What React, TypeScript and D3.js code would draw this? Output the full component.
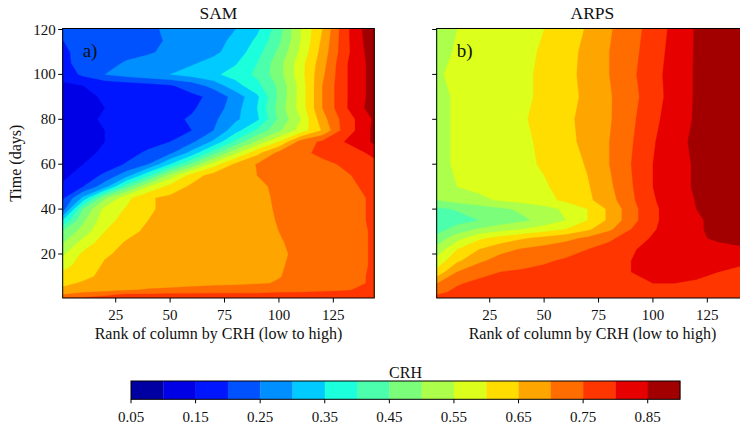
import React from "react";
import * as d3 from "d3";

const LEVELS = [0.05, 0.1, 0.15, 0.2, 0.25, 0.3, 0.35, 0.4, 0.45, 0.5, 0.55, 0.6, 0.65, 0.7, 0.75, 0.8, 0.85, 0.9];
const CBAR_TICKS = [0.05, 0.15, 0.25, 0.35, 0.45, 0.55, 0.65, 0.75, 0.85];
const RANK_TICKS = [25, 50, 75, 100, 125];
const TIME_TICKS = [20, 40, 60, 80, 100, 120];
const RANKS = [1, 10, 20, 30, 40, 50, 60, 70, 80, 90, 100, 110, 120, 130, 140, 144];

const SAM_TIMES = [0, 2, 4, 7, 10, 15, 20, 25, 30, 35, 40, 45, 50, 55, 60, 65, 70, 75, 80, 85, 90, 95, 100, 105, 110, 115, 120];
const SAM_CRH = [
  [0.765, 0.765, 0.77, 0.77, 0.77, 0.77, 0.775, 0.775, 0.775, 0.78, 0.78, 0.78, 0.785, 0.785, 0.79, 0.795],
  [0.7, 0.72, 0.74, 0.755, 0.755, 0.76, 0.76, 0.76, 0.76, 0.76, 0.765, 0.765, 0.77, 0.775, 0.78, 0.79],
  [0.66, 0.67, 0.68, 0.695, 0.705, 0.71, 0.715, 0.72, 0.72, 0.725, 0.73, 0.735, 0.74, 0.745, 0.76, 0.78],
  [0.64, 0.655, 0.665, 0.67, 0.675, 0.68, 0.685, 0.69, 0.693, 0.697, 0.702, 0.71, 0.72, 0.73, 0.75, 0.77],
  [0.62, 0.64, 0.66, 0.665, 0.67, 0.675, 0.68, 0.685, 0.69, 0.694, 0.699, 0.707, 0.72, 0.73, 0.75, 0.765],
  [0.58, 0.625, 0.655, 0.66, 0.67, 0.675, 0.68, 0.685, 0.69, 0.694, 0.698, 0.705, 0.72, 0.73, 0.745, 0.765],
  [0.545, 0.61, 0.645, 0.66, 0.67, 0.675, 0.68, 0.685, 0.69, 0.694, 0.697, 0.704, 0.72, 0.73, 0.745, 0.765],
  [0.5, 0.57, 0.625, 0.655, 0.665, 0.67, 0.675, 0.685, 0.69, 0.694, 0.698, 0.706, 0.72, 0.73, 0.745, 0.765],
  [0.46, 0.52, 0.6, 0.635, 0.66, 0.665, 0.675, 0.68, 0.69, 0.695, 0.7, 0.708, 0.72, 0.73, 0.745, 0.765],
  [0.36, 0.49, 0.58, 0.62, 0.65, 0.665, 0.675, 0.68, 0.69, 0.695, 0.701, 0.71, 0.72, 0.73, 0.75, 0.765],
  [0.23, 0.45, 0.565, 0.605, 0.645, 0.66, 0.67, 0.68, 0.69, 0.695, 0.702, 0.712, 0.725, 0.735, 0.75, 0.765],
  [0.195, 0.31, 0.49, 0.585, 0.645, 0.66, 0.67, 0.678, 0.686, 0.695, 0.703, 0.713, 0.725, 0.735, 0.75, 0.765],
  [0.16, 0.2, 0.28, 0.43, 0.55, 0.62, 0.66, 0.67, 0.684, 0.695, 0.705, 0.715, 0.725, 0.74, 0.755, 0.77],
  [0.14, 0.17, 0.21, 0.28, 0.39, 0.52, 0.625, 0.67, 0.684, 0.7, 0.71, 0.72, 0.73, 0.745, 0.76, 0.775],
  [0.13, 0.15, 0.17, 0.205, 0.25, 0.35, 0.46, 0.575, 0.66, 0.703, 0.72, 0.73, 0.74, 0.755, 0.77, 0.78],
  [0.12, 0.135, 0.16, 0.18, 0.21, 0.24, 0.32, 0.43, 0.54, 0.635, 0.715, 0.74, 0.76, 0.78, 0.8, 0.82],
  [0.115, 0.13, 0.15, 0.165, 0.18, 0.2, 0.24, 0.31, 0.41, 0.51, 0.6, 0.72, 0.76, 0.8, 0.84, 0.86],
  [0.12, 0.13, 0.15, 0.17, 0.18, 0.19, 0.2, 0.25, 0.33, 0.41, 0.49, 0.57, 0.655, 0.77, 0.83, 0.87],
  [0.12, 0.13, 0.16, 0.17, 0.18, 0.19, 0.205, 0.24, 0.29, 0.34, 0.46, 0.55, 0.68, 0.77, 0.83, 0.86],
  [0.12, 0.13, 0.15, 0.165, 0.175, 0.185, 0.195, 0.22, 0.28, 0.35, 0.47, 0.57, 0.7, 0.79, 0.855, 0.87],
  [0.13, 0.14, 0.155, 0.165, 0.175, 0.185, 0.19, 0.21, 0.27, 0.34, 0.46, 0.57, 0.7, 0.79, 0.85, 0.87],
  [0.14, 0.15, 0.16, 0.17, 0.18, 0.195, 0.22, 0.27, 0.33, 0.385, 0.46, 0.57, 0.7, 0.79, 0.85, 0.875],
  [0.17, 0.21, 0.25, 0.27, 0.285, 0.3, 0.32, 0.34, 0.37, 0.41, 0.48, 0.58, 0.69, 0.79, 0.85, 0.88],
  [0.19, 0.215, 0.235, 0.255, 0.265, 0.28, 0.295, 0.315, 0.345, 0.4, 0.48, 0.58, 0.68, 0.79, 0.85, 0.88],
  [0.195, 0.21, 0.22, 0.235, 0.245, 0.26, 0.275, 0.29, 0.32, 0.38, 0.46, 0.56, 0.67, 0.78, 0.855, 0.88],
  [0.2, 0.21, 0.215, 0.225, 0.24, 0.255, 0.27, 0.285, 0.31, 0.36, 0.44, 0.55, 0.66, 0.78, 0.86, 0.885],
  [0.205, 0.21, 0.215, 0.225, 0.24, 0.26, 0.27, 0.285, 0.3, 0.34, 0.43, 0.55, 0.65, 0.78, 0.865, 0.89],
];

const ARPS_TIMES = [0, 3, 7, 12, 17, 22, 27, 31, 35, 40, 44, 50, 60, 70, 80, 90, 100, 110, 120];
const ARPS_CRH = [
  [0.77, 0.775, 0.775, 0.78, 0.78, 0.78, 0.78, 0.78, 0.78, 0.78, 0.78, 0.78, 0.78, 0.78, 0.78, 0.78],
  [0.74, 0.76, 0.77, 0.775, 0.775, 0.78, 0.78, 0.78, 0.785, 0.785, 0.79, 0.79, 0.785, 0.78, 0.78, 0.78],
  [0.7, 0.745, 0.76, 0.765, 0.77, 0.775, 0.78, 0.785, 0.79, 0.795, 0.8, 0.8, 0.795, 0.785, 0.78, 0.78],
  [0.62, 0.7, 0.735, 0.75, 0.755, 0.76, 0.765, 0.775, 0.79, 0.8, 0.81, 0.815, 0.81, 0.8, 0.79, 0.785],
  [0.57, 0.64, 0.69, 0.72, 0.735, 0.745, 0.755, 0.765, 0.78, 0.8, 0.815, 0.825, 0.825, 0.815, 0.81, 0.81],
  [0.52, 0.6, 0.65, 0.685, 0.705, 0.72, 0.735, 0.75, 0.77, 0.795, 0.815, 0.83, 0.835, 0.84, 0.845, 0.85],
  [0.47, 0.53, 0.59, 0.62, 0.645, 0.665, 0.685, 0.71, 0.74, 0.775, 0.805, 0.83, 0.845, 0.855, 0.86, 0.865],
  [0.43, 0.47, 0.505, 0.53, 0.55, 0.575, 0.6, 0.64, 0.69, 0.75, 0.795, 0.825, 0.845, 0.86, 0.865, 0.87],
  [0.41, 0.43, 0.45, 0.47, 0.49, 0.515, 0.55, 0.6, 0.66, 0.73, 0.79, 0.825, 0.845, 0.86, 0.87, 0.875],
  [0.44, 0.455, 0.47, 0.49, 0.51, 0.53, 0.56, 0.6, 0.66, 0.73, 0.79, 0.825, 0.85, 0.865, 0.875, 0.88],
  [0.5, 0.52, 0.54, 0.555, 0.57, 0.585, 0.61, 0.64, 0.68, 0.74, 0.795, 0.83, 0.852, 0.865, 0.88, 0.885],
  [0.53, 0.55, 0.56, 0.57, 0.58, 0.595, 0.615, 0.645, 0.69, 0.745, 0.8, 0.835, 0.855, 0.87, 0.88, 0.885],
  [0.54, 0.555, 0.565, 0.575, 0.59, 0.605, 0.625, 0.655, 0.7, 0.75, 0.8, 0.835, 0.855, 0.87, 0.88, 0.885],
  [0.54, 0.555, 0.565, 0.575, 0.59, 0.61, 0.635, 0.665, 0.7, 0.745, 0.795, 0.835, 0.86, 0.87, 0.88, 0.885],
  [0.54, 0.555, 0.565, 0.575, 0.595, 0.615, 0.64, 0.665, 0.695, 0.74, 0.785, 0.83, 0.855, 0.87, 0.88, 0.885],
  [0.54, 0.555, 0.565, 0.575, 0.59, 0.61, 0.635, 0.66, 0.695, 0.735, 0.775, 0.825, 0.855, 0.87, 0.88, 0.885],
  [0.545, 0.56, 0.57, 0.58, 0.59, 0.61, 0.635, 0.665, 0.7, 0.74, 0.78, 0.825, 0.855, 0.87, 0.88, 0.885],
  [0.535, 0.555, 0.57, 0.58, 0.59, 0.605, 0.63, 0.665, 0.7, 0.735, 0.775, 0.82, 0.855, 0.87, 0.88, 0.885],
  [0.53, 0.55, 0.565, 0.575, 0.585, 0.6, 0.625, 0.655, 0.695, 0.73, 0.77, 0.815, 0.855, 0.87, 0.88, 0.885],
];

// matplotlib "jet" colormap
const jetR = d3.scaleLinear().domain([0, 0.35, 0.66, 0.89, 1]).range([0, 0, 1, 1, 0.5]).clamp(true);
const jetG = d3.scaleLinear().domain([0, 0.125, 0.375, 0.64, 0.91, 1]).range([0, 0, 1, 1, 0, 0]).clamp(true);
const jetB = d3.scaleLinear().domain([0, 0.11, 0.34, 0.65, 1]).range([0.5, 1, 1, 0, 0]).clamp(true);
const jet = (t: number) => d3.rgb(jetR(t) * 255, jetG(t) * 255, jetB(t) * 255).formatHex();
const vmin = LEVELS[0];
const vmax = LEVELS[LEVELS.length - 1];
const BAND_COLORS = LEVELS.slice(0, -1).map((l, i) => jet(((l + LEVELS[i + 1]) / 2 - vmin) / (vmax - vmin)));

const FONT = "'Liberation Serif', 'DejaVu Serif', serif";
const PX_PER_RANK = 2.176;

function Panel({ offset, times, values, title, tag, showYLabels, id }: any) {
  const x0 = 63.5 + offset;
  const x = d3.scaleLinear().domain([1, 144]).range([x0, x0 + 143 * PX_PER_RANK]);
  const y = d3.scaleLinear().domain([0, 120]).range([298.9, 29.5]);
  const n = RANKS.length;
  const m = times.length;
  const rankOf = d3.scaleLinear().domain(d3.range(n)).range(RANKS);
  const timeOf = d3.scaleLinear().domain(d3.range(m)).range(times);
  const contours = d3.contours().size([n, m]).thresholds(LEVELS.slice(0, -1))(values.flat());
  const path = d3.geoPath(
    d3.geoTransform({
      point(px: number, py: number) {
        (this as any).stream.point(x(rankOf(px - 0.5)), y(timeOf(py - 0.5)));
      },
    })
  );
  const fx0 = x(0.63);
  const fx1 = x(143.8);
  const fy0 = y(120.45);
  const fy1 = y(0.4);
  const cx = (fx0 + fx1) / 2;
  return (
    <g>
      <defs>
        <clipPath id={id}>
          <rect x={fx0} y={fy0} width={fx1 - fx0} height={fy1 - fy0} />
        </clipPath>
      </defs>
      <g clipPath={`url(#${id})`}>
        {contours.map((c: any, i: number) => (
          <path key={i} d={path(c) || ""} fill={BAND_COLORS[i]} stroke={BAND_COLORS[i]} strokeWidth={0.3} />
        ))}
      </g>
      <rect x={fx0} y={fy0} width={fx1 - fx0} height={fy1 - fy0} fill="none" stroke="#000" strokeWidth={1} />
      <text x={cx} y={18.5} textAnchor="middle" fontFamily={FONT} fontSize={17.5} fill="#111">{title}</text>
      <text x={fx0 + 20} y={57} fontFamily={FONT} fontSize={19} fill="#111">{tag}</text>
      {RANK_TICKS.map((t) => (
        <g key={t}>
          <line x1={x(t)} x2={x(t)} y1={fy1} y2={fy1 + 4.5} stroke="#000" strokeWidth={1} />
          <text x={x(t)} y={320} textAnchor="middle" fontFamily={FONT} fontSize={15} fill="#111">{t}</text>
        </g>
      ))}
      {TIME_TICKS.map((t) => (
        <g key={t}>
          <line x1={fx0 - 4.5} x2={fx0} y1={y(t)} y2={y(t)} stroke="#000" strokeWidth={1} />
          {showYLabels && (
            <text x={fx0 - 7} y={y(t) + 5} textAnchor="end" fontFamily={FONT} fontSize={15} fill="#111">{t}</text>
          )}
        </g>
      ))}
      <text x={cx} y={339} textAnchor="middle" fontFamily={FONT} fontSize={16} fill="#111">
        Rank of column by CRH (low to high)
      </text>
      {showYLabels && (
        <text
          transform={`translate(${21},${(fy0 + fy1) / 2}) rotate(-90)`}
          textAnchor="middle"
          fontFamily={FONT}
          fontSize={16}
          fill="#111"
        >
          Time (days)
        </text>
      )}
    </g>
  );
}

function Colorbar() {
  const cx = d3.scaleLinear().domain([vmin, vmax]).range([131, 680]);
  const top = 381;
  const h = 18.3;
  const fmt = d3.format(".2f");
  return (
    <g>
      {BAND_COLORS.map((c, i) => (
        <rect key={i} x={cx(LEVELS[i])} y={top} width={cx(LEVELS[i + 1]) - cx(LEVELS[i]) + 0.3} height={h} fill={c} />
      ))}
      <rect x={cx(vmin)} y={top} width={cx(vmax) - cx(vmin)} height={h} fill="none" stroke="#000" strokeWidth={1} />
      {CBAR_TICKS.map((t) => (
        <g key={t}>
          <line x1={cx(t)} x2={cx(t)} y1={top + h} y2={top + h + 4} stroke="#000" strokeWidth={1} />
          <text x={cx(t)} y={421.5} textAnchor="middle" fontFamily={FONT} fontSize={15} fill="#111">{fmt(t)}</text>
        </g>
      ))}
      <text x={(cx(vmin) + cx(vmax)) / 2} y={378} textAnchor="middle" fontFamily={FONT} fontSize={16} fill="#111">CRH</text>
    </g>
  );
}

export default function App() {
  return (
    <svg width={740} height={427} style={{ position: "absolute", left: 0, top: 0, background: "#fff" }}>
      <rect width={740} height={427} fill="#fff" />
      <Panel offset={0} times={SAM_TIMES} values={SAM_CRH} title="SAM" tag="a)" showYLabels={true} id="clipSam" />
      <Panel offset={374} times={ARPS_TIMES} values={ARPS_CRH} title="ARPS" tag="b)" showYLabels={false} id="clipArps" />
      <Colorbar />
    </svg>
  );
}
